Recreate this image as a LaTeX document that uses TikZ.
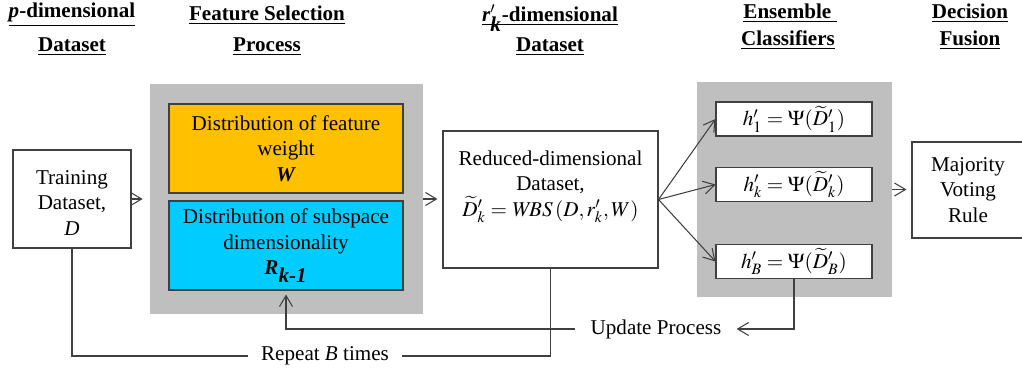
\documentclass[tikz,border=0pt]{standalone}
\usepackage{mathptmx}
\usepackage[no-math]{fontspec}
\setmainfont{Liberation Serif}
\usetikzlibrary{arrows.meta}
\definecolor{weightcol}{HTML}{FFC000}
\definecolor{dimcol}{HTML}{00CCFF}

\begin{document}
\begin{tikzpicture}[x=0.02cm,y=-0.02cm,
    font=\fontsize{12}{14.5}\selectfont,
    box/.style={draw=black!75,line width=0.6pt,align=center,inner sep=0pt},
    panel/.style={fill=black!25,inner sep=0pt},
    head/.style={font=\fontsize{12}{14}\selectfont\bfseries},
    link/.style={draw=black!75,line width=0.6pt},
    arr/.style={link,-{Straight Barb[length=0.22cm,width=0.26cm]}}]
    \useasboundingbox (0,0) rectangle (1022,373);

    % column headings
    \node[head] (pdimA) at (72,15) {\underline{\textit{p}-dimensional}};
    \node[head] (pdimB) at (72,47) {\underline{Dataset}};
    \node[head] (fselA) at (267,15) {\underline{Feature Selection}};
    \node[head] (fselB) at (267,47) {\underline{Process}};
    \node[head] (rdimA) at (550,16) {\underline{\textit{r}\smash{$^{\prime}_{\textit{k}}$}-dimensional}};
    \node[head] (rdimB) at (550,47) {\underline{Dataset}};
    \node[head] (ensA) at (790,13) {\underline{Ensemble }};
    \node[head] (ensB) at (788,40) {\underline{Classifiers}};
    \node[head] (fusA) at (970,13) {\underline{Decision}};
    \node[head] (fusB) at (970,40) {\underline{Fusion}};

    % grey panels
    \node[panel,minimum width=5.46cm,minimum height=4.6cm] (fsel) at (286.5,199) {};
    \node[panel,minimum width=3.9cm,minimum height=4.3cm] (ens) at (794.5,189.5) {};

    % boxes
    \node[box,minimum width=2.36cm,minimum height=1.96cm] (train) at (72,199) {\\[-2pt]Training\\Dataset,\\\textit{D}};
    \node[box,fill=weightcol,minimum width=4.68cm,minimum height=1.78cm] (weight) at (286,148.5) {Distribution of feature\\weight\\\textbf{\textit{W}}};
    \node[box,fill=dimcol,minimum width=4.68cm,minimum height=1.78cm] (dim) at (286,245.5) {Distribution of subspace\\dimensionality\\\textbf{\textit{R}}$_{\textbf{\textit{k-1}}}$};
    \node[box,fill=white,minimum width=4.3cm,minimum height=2.74cm] (reduced) at (550.5,199.5) {Reduced-dimensional\\Dataset,\\$\widetilde{D}'_k = \mathit{WBS}\,(D, r'_k, W)$\\[4pt]};
    \node[box,fill=white,minimum width=3.12cm,minimum height=0.68cm] (h1) at (794,119) {$h'_1 = \Psi(\widetilde{D}'_1)$};
    \node[box,fill=white,minimum width=3.12cm,minimum height=0.68cm] (hk) at (794,184.5) {$h'_k = \Psi(\widetilde{D}'_k)$};
    \node[box,fill=white,minimum width=3.12cm,minimum height=0.68cm] (hB) at (794,261.5) {$h'_B = \Psi(\widetilde{D}'_B)$};
    \node[box,fill=white,minimum width=2.24cm,minimum height=1.92cm] (vote) at (968,190) {Majority\\Voting\\Rule};

    % main flow
    \draw[arr,shorten >=0.14cm] (train.east) -- (train.east -| fsel.west);
    \draw[arr,shorten >=0.1cm] (fsel.east) -- (fsel.east -| reduced.west);
    \foreach \h in {h1,hk,hB}
        \draw[arr] (reduced.east) -- (\h.west);
    \draw[arr,shorten >=0.1cm] (ens.east) -- (ens.east -| vote.west);

    % feedback loops
    \node[inner xsep=0.3cm] (upd) at (656,329) {Update Process};
    \draw[arr] (hB.south) |- (upd.east);
    \draw[arr,shorten >=0.08cm] (upd.west) -| (dim.south);
    \node[inner xsep=0.26cm] (rep) at (325,356) {Repeat \textit{B} times};
    \draw[link] (train.south) |- (rep.west);
    \draw[link] (rep.east) -| (reduced.south);
\end{tikzpicture}
\end{document}
